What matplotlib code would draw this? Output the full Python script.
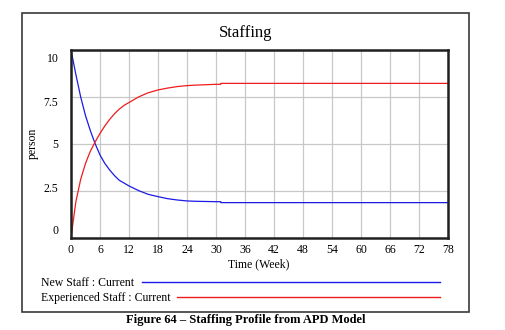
import matplotlib.pyplot as plt
import matplotlib.transforms as mtransforms
from matplotlib.lines import Line2D
from matplotlib.patches import Rectangle

# Weekly staffing levels (person) read from the APD model run
weeks = [0, 1, 2, 3, 4, 5, 6, 7, 8, 9, 10, 11, 12, 14, 16, 18, 20, 22, 24,
         26, 28, 30, 31, 31, 78]
new_staff = [10.0, 8.7, 7.5, 6.5, 5.7, 5.0, 4.4, 3.95, 3.6, 3.3, 3.05, 2.9,
             2.75, 2.5, 2.3, 2.18, 2.07, 2.0, 1.95, 1.93, 1.92, 1.91, 1.91,
             1.86, 1.86]
experienced_staff = [0.0, 1.9, 3.1, 3.95, 4.6, 5.1, 5.55, 5.95, 6.3, 6.6,
                     6.85, 7.05, 7.2, 7.5, 7.72, 7.87, 7.97, 8.05, 8.1, 8.13,
                     8.15, 8.17, 8.17, 8.22, 8.22]

x_ticks = list(range(0, 79, 6))
y_ticks = [0, 2.5, 5, 7.5, 10]
y_labels = ["0", "2.5", "5", "7.5", "10"]

SERIF = "Liberation Serif"
BLUE = "#1a1ae6"
RED = "#f01c1c"

fig = plt.figure(figsize=(5.06, 3.30), dpi=100)
W, H = 506, 330


def fx(px):
    return px / W


def fy(py):
    return 1 - py / H


# outer frame around the whole graph
fig.patches.append(Rectangle((fx(22), fy(312)), fx(469) - fx(22), fy(13) - fy(312),
                             transform=fig.transFigure, fill=False,
                             edgecolor="#3a3a3a", lw=1.2))

ax = fig.add_axes([fx(71), fy(237.5), fx(448) - fx(71), fy(50) - fy(237.5)])
ax.plot(weeks, new_staff, color=BLUE, lw=0.9)
ax.plot(weeks, experienced_staff, color=RED, lw=0.9)

ax.set_xlim(0, 78)
ax.set_ylim(0, 10)
ax.set_xticks(x_ticks)
ax.set_yticks(y_ticks)
ax.set_yticklabels(y_labels)
ax.grid(True, color="#c8c8c8", lw=0.9)
ax.set_axisbelow(True)
ax.tick_params(length=0, labelsize=8.5)
ax.tick_params(axis="x", pad=5)
ax.tick_params(axis="y", pad=9)
for lab in ax.get_xticklabels() + ax.get_yticklabels():
    lab.set_family(SERIF)
for sp in ax.spines.values():
    sp.set_linewidth(1.8)
    sp.set_color("#202020")

# vensim spreads the y labels slightly inside the axis range
for i, lab in enumerate(ax.get_yticklabels()):
    dy = (7.5 - 3.875 * i) * 0.72
    lab.set_transform(lab.get_transform() +
                      mtransforms.ScaledTranslation(0, dy / 72, fig.dpi_scale_trans))

fig.text(fx(246), fy(33), "Staffing", family=SERIF, fontsize=12,
         ha="center", va="center")
fig.text(fx(33), fy(143), "person", family=SERIF, fontsize=8.5,
         rotation=90, ha="center", va="center")
fig.text(fx(259), fy(264), "Time (Week)", family=SERIF, fontsize=8.5,
         ha="center", va="center")

# legend rows
fig.text(fx(41), fy(283), "New Staff : Current", family=SERIF, fontsize=8.5,
         ha="left", va="center")
fig.text(fx(41), fy(298), "Experienced Staff : Current", family=SERIF,
         fontsize=8.5, ha="left", va="center")
fig.lines.append(Line2D([fx(142), fx(440)], [fy(282), fy(282)],
                        transform=fig.transFigure, color=BLUE, lw=1.0))
fig.lines.append(Line2D([fx(177), fx(440)], [fy(297), fy(297)],
                        transform=fig.transFigure, color=RED, lw=1.0))

fig.text(fx(246), fy(320), "Figure 64 \u2013 Staffing Profile from APD Model",
         family=SERIF, fontweight="bold", fontsize=9, ha="center", va="center")

fig.savefig("out.png", dpi=100, facecolor="white")
